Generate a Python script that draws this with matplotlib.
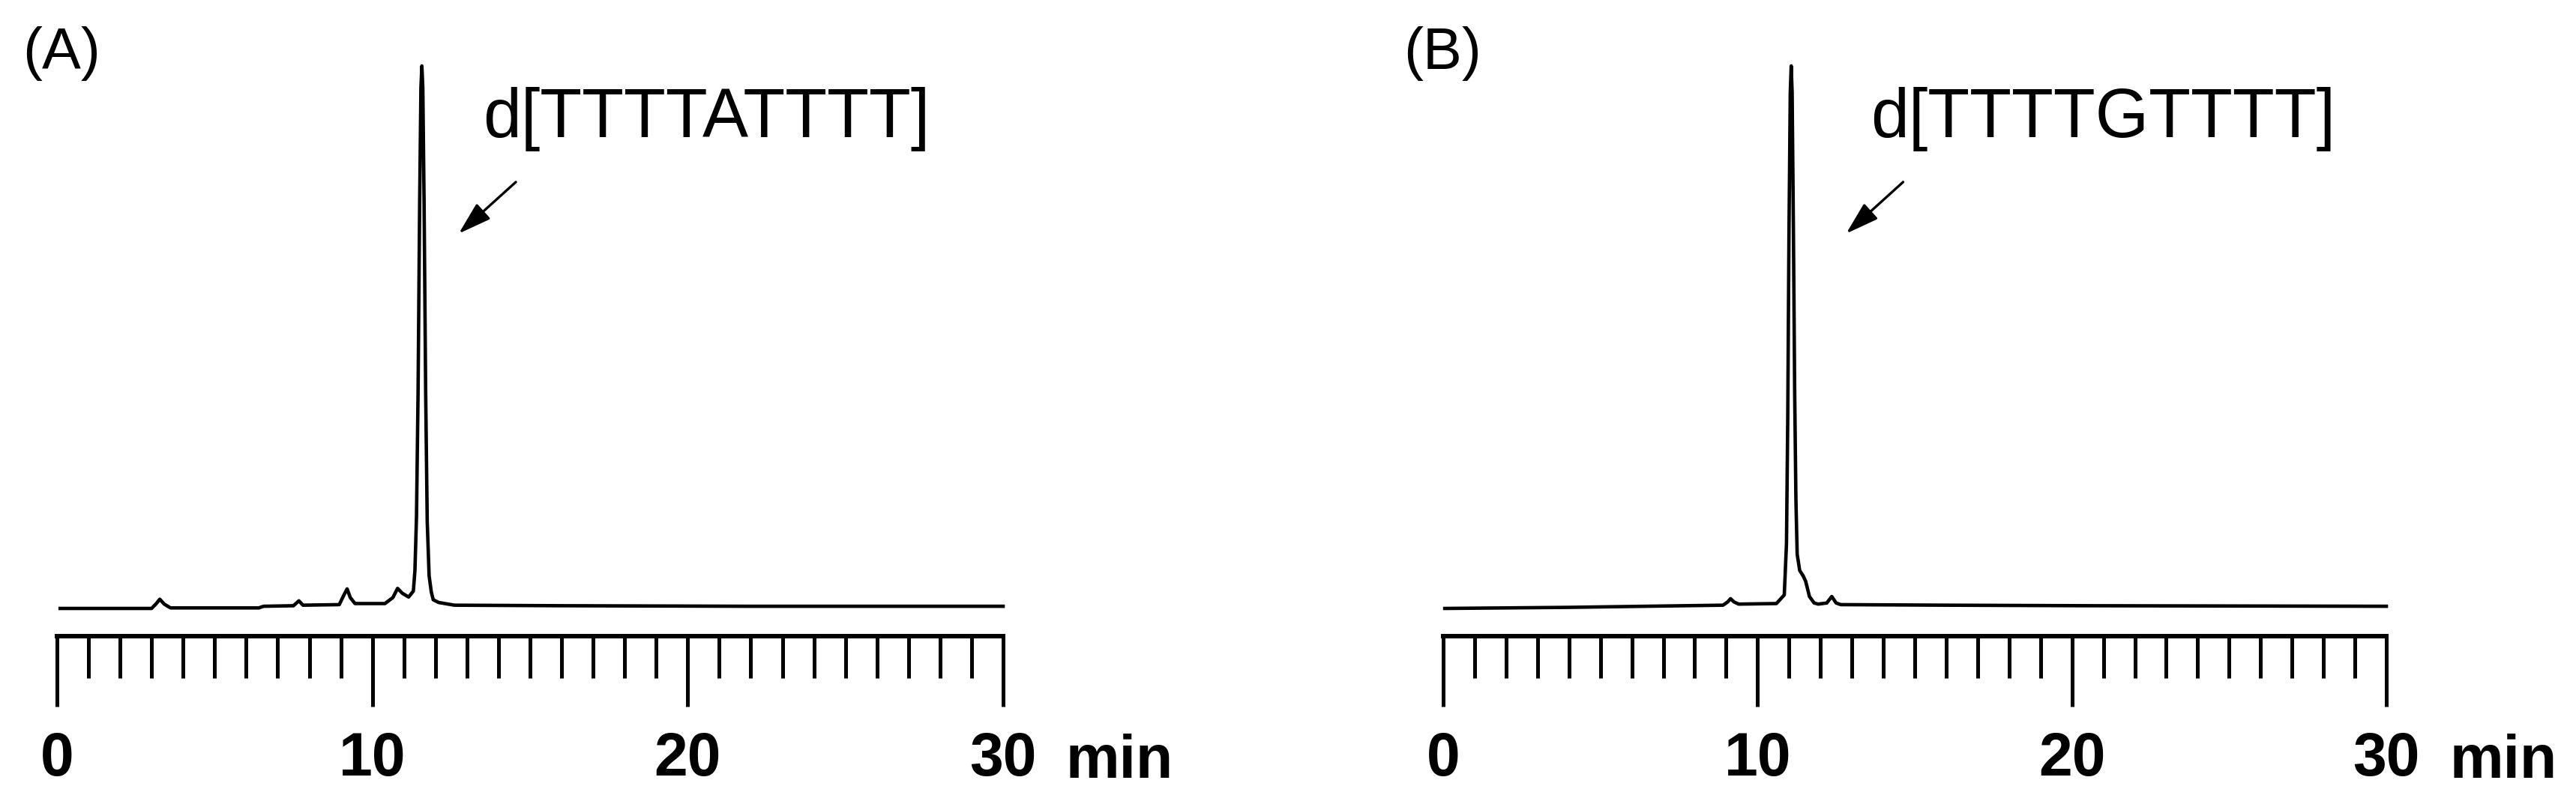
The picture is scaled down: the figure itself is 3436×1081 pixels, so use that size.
import matplotlib
matplotlib.use("Agg")
import matplotlib.pyplot as plt

# ── data (retention time in min, detector signal in arbitrary units) ──
time_a = [0.1, 3.0, 3.15, 3.26, 3.4, 3.6, 6.4, 6.55, 7.5, 7.67, 7.8, 8.95,
          9.1, 9.2, 9.3, 9.45, 10.4, 10.65, 10.8, 10.95, 11.15, 11.30, 11.35,
          11.40, 11.45, 11.50, 11.54, 11.57, 11.60, 11.64, 11.69, 11.74, 11.80,
          11.87, 11.93, 12.1, 12.6, 16.0, 22.0, 30.0]
sig_a = [0.0, 0.0, 0.9, 1.7, 0.8, 0.1, 0.1, 0.4, 0.5, 1.4, 0.6, 0.7,
         2.5, 3.6, 2.0, 0.9, 0.9, 2.0, 3.7, 2.8, 2.1, 3.2, 7.0,
         17.0, 40.0, 75.0, 96.0, 100.0, 96.0, 75.0, 40.0, 16.0, 6.0,
         3.0, 1.6, 1.1, 0.6, 0.5, 0.4, 0.4]

time_b = [0.05, 4.0, 8.9, 9.05, 9.14, 9.25, 9.4, 10.6, 10.85, 10.92, 10.96,
          11.0, 11.04, 11.07, 11.10, 11.14, 11.18, 11.22, 11.26, 11.34, 11.45,
          11.53, 11.65, 11.8, 11.93, 12.2, 12.36, 12.5, 12.65, 16.0, 20.5, 30.0]
sig_b = [0.0, 0.2, 0.6, 1.2, 1.8, 1.2, 0.8, 0.9, 2.5, 12.0, 35.0,
         70.0, 95.0, 100.0, 95.0, 70.0, 40.0, 20.0, 10.0, 7.0, 6.0,
         5.0, 2.2, 1.0, 0.8, 1.0, 2.2, 1.0, 0.7, 0.6, 0.5, 0.4]

panel_tags = ["(A)", "(B)"]
peak_names = ["d[TTTTATTTT]", "d[TTTTGTTTT]"]
major_ticks = [0, 10, 20, 30]
minor_ticks = list(range(0, 31))
unit_label = "min"

# ── style ──
FONT = ["Liberation Sans", "DejaVu Sans"]
plt.rcParams.update({"font.family": FONT})

W, H, DPI = 3437, 1081, 100
fig = plt.figure(figsize=(W / DPI, H / DPI), dpi=DPI)

AX_BOTTOM = (H - 849) / H
AX_HEIGHT = (849 - 80) / H
panels = [
    dict(left=76 / W, width=1262 / W, t=time_a, s=sig_a, tag_x=30 / W,
         text_x=13.5, arrow_tail=(14.55, 78.6), arrow_head=(12.74, 69.1),
         min_x=1422 / W),
    dict(left=1925 / W, width=1258 / W, t=time_b, s=sig_b, tag_x=1872 / W,
         text_x=13.6, arrow_tail=(14.63, 78.6), arrow_head=(12.82, 69.1),
         min_x=3268 / W),
]

for i, p in enumerate(panels):
    ax = fig.add_axes([p["left"], AX_BOTTOM, p["width"], AX_HEIGHT])
    ax.plot(p["t"], p["s"], color="black", lw=3.3, solid_joinstyle="round",
            clip_on=False)
    ax.set_xlim(0, 30)
    ax.set_ylim(-5.11, 101.1)

    for side in ("left", "top", "right"):
        ax.spines[side].set_visible(False)
    ax.spines["bottom"].set_linewidth(4.3)
    ax.set_yticks([])
    ax.set_xticks(major_ticks)
    ax.set_xticks(minor_ticks, minor=True)
    ax.tick_params(axis="x", which="major", direction="out", length=67.7,
                   width=3.6, pad=24, labelsize=58)
    ax.tick_params(axis="x", which="minor", direction="out", length=40.3,
                   width=3.6)
    for lab in ax.get_xticklabels():
        lab.set_fontweight("bold")

    ax.text(p["text_x"], 86.9, peak_names[i], fontsize=66, ha="left",
            va="baseline")
    ax.annotate("", xy=p["arrow_head"], xytext=p["arrow_tail"],
                arrowprops=dict(arrowstyle="-|>,head_length=0.9,head_width=0.28",
                                color="black", lw=2.4, mutation_scale=30,
                                shrinkA=0, shrinkB=0))

    fig.text(p["tag_x"], 1 - 92 / H, panel_tags[i], fontsize=56,
             ha="left", va="baseline")
    fig.text(p["min_x"], 1 - 1038 / H, unit_label, fontsize=58,
             fontweight="bold", ha="left", va="baseline")

fig.savefig("out.png", dpi=DPI, facecolor="white")
